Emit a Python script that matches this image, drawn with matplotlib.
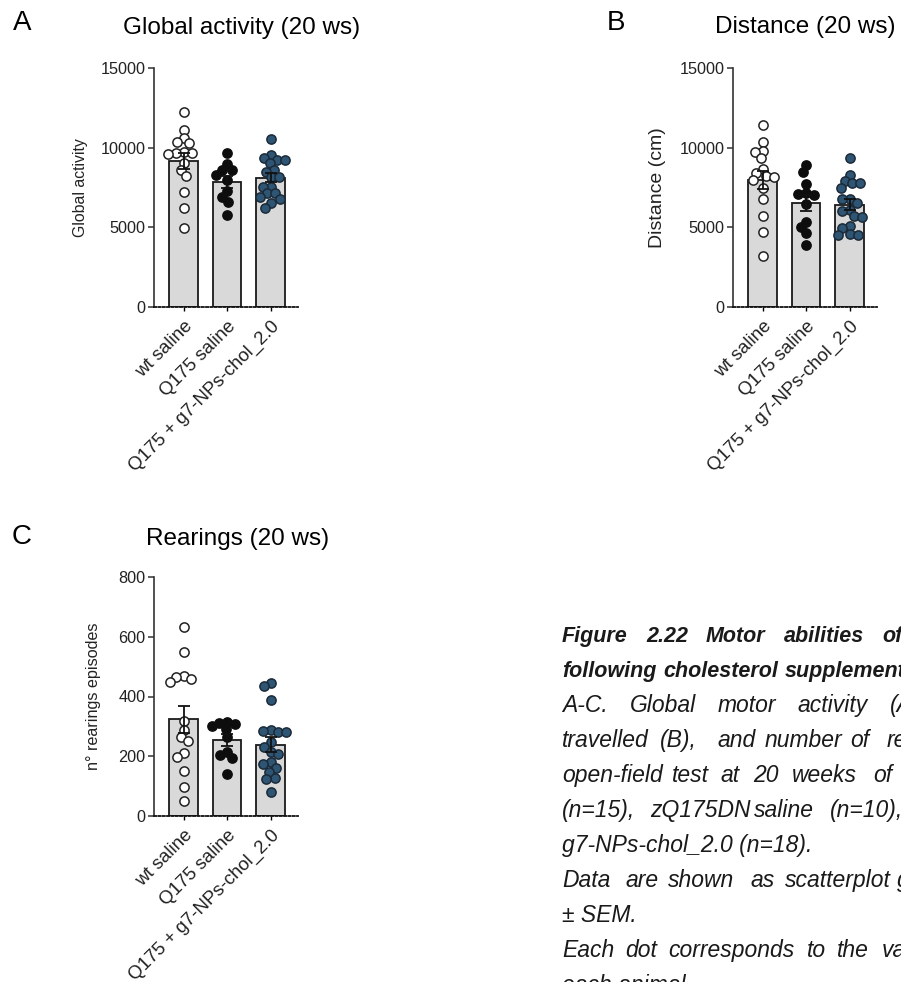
import numpy as np
import matplotlib
matplotlib.use("Agg")
import matplotlib.pyplot as plt

plt.rcParams['font.family'] = ['Liberation Sans', 'DejaVu Sans']

# ---- data ----
groups = ["wt saline", "Q175 saline", "Q175 + g7-NPs-chol_2.0"]

act_wt = [12250, 11100, 10600, 10330, 10270, 9700, 9680, 9650, 9600, 9050,
          8600, 8250, 7240, 6200, 4940]
act_q175 = [9650, 8980, 8600, 8600, 8300, 8000, 7250, 6900, 6600, 5800]
act_np = [10520, 9540, 9330, 9230, 9230, 9020, 8600, 8500, 8140, 8140,
          7550, 7550, 7140, 7140, 6920, 6760, 6510, 6200]

dist_wt = [11400, 10330, 9800, 9700, 9330, 8650, 8400, 8200, 8180, 7970,
           7450, 6760, 5710, 4730, 3200]
dist_q175 = [8900, 8450, 7720, 7140, 7100, 7030, 6460, 5350, 5000, 4630, 3890]
dist_np = [9330, 8290, 7930, 7800, 7760, 7500, 6760, 6760, 6550, 6100,
           6000, 5710, 5630, 5080, 4940, 4580, 4520, 4520]

rear_wt = [634, 550, 470, 466, 458, 450, 319, 288, 264, 252, 210, 199, 150, 98, 51]
rear_q175 = [315, 312, 308, 300, 290, 265, 215, 205, 195, 140]
rear_np = [446, 436, 388, 288, 285, 282, 282, 247, 232, 215, 208, 180, 174,
           160, 146, 128, 123, 79]

act_ticks = [0, 5000, 10000, 15000]
rear_ticks = [0, 200, 400, 600, 800]

# ---- styles ----
W, H = 901, 982
BAR_FC = "#d9d9d9"
DOT_STYLE = [dict(facecolor="white", edgecolor="#222222"),
             dict(facecolor="#0d0d0d", edgecolor="#0d0d0d"),
             dict(facecolor="#2f5574", edgecolor="#1b2a38")]


def fx(px):
    return px / W


def fy(py):
    return 1 - py / H


def swarm(ax, xc, vals, dmin=7.6):
    # beeswarm offsets, worked out in pixels then back to data units
    t = ax.transData
    ys = t.transform(np.column_stack([np.full(len(vals), xc), vals]))[:, 1]
    xpx = t.transform([[1, 0]])[0, 0] - t.transform([[0, 0]])[0, 0]
    cands = sorted(np.arange(-40, 40.01, 0.5), key=lambda c: (abs(c), c))
    placed, offs = [], np.zeros(len(vals))
    for i in np.argsort(-ys):
        for c in cands:
            if all((c - px) ** 2 + (ys[i] - py) ** 2 >= dmin ** 2 for px, py in placed):
                break
        placed.append((c, ys[i]))
        offs[i] = c
    return xc + offs / xpx


def panel(left, base, data, ticks, ylabel, ylab_size, ylab_right):
    ax = fig.add_axes([fx(left), fy(base), fx(144), 239 / H])
    ax.set_xlim(-0.68, 2.63)
    ax.set_ylim(ticks[0], ticks[-1])
    for i, vals in enumerate(data):
        vals = np.asarray(vals, float)
        m = vals.mean()
        sem = vals.std(ddof=1) / np.sqrt(len(vals))
        ax.bar(i, m, width=0.66, color=BAR_FC, edgecolor="#1a1a1a", linewidth=1.3, zorder=1)
        xs = swarm(ax, i, vals)
        ax.scatter(xs, vals, s=44, linewidths=1.1, zorder=3, clip_on=False, **DOT_STYLE[i])
        ax.errorbar(i, m, yerr=sem, color="#111111", elinewidth=1.3, capsize=4.6,
                    capthick=1.3, zorder=4)
    ax.set_yticks(ticks)
    ax.tick_params(axis="y", direction="out", length=4, width=1.1, colors="#333333",
                   labelsize=11.7, labelcolor="#222222", pad=2)
    ax.set_xticks([0, 1, 2])
    ax.set_xticklabels(groups, rotation=45, ha="right", rotation_mode="anchor",
                       fontsize=13.4, color="#222222")
    ax.tick_params(axis="x", direction="out", length=3, width=1.0, pad=5)
    for s in ("top", "right"):
        ax.spines[s].set_visible(False)
    ax.spines["left"].set_linewidth(1.2)
    ax.spines["left"].set_color("#333333")
    ax.spines["bottom"].set_linestyle((0, (1.2, 1.2)))
    ax.spines["bottom"].set_linewidth(1.3)
    ax.spines["bottom"].set_color("#111111")
    ax.set_ylabel(ylabel, fontsize=ylab_size, color="#222222")
    ax.yaxis.set_label_coords((ylab_right - left) / 144, 0.5)
    return ax


fig = plt.figure(figsize=(W / 100, H / 100), dpi=100)

axA = panel(154, 307, [act_wt, act_q175, act_np], act_ticks, "Global activity", 11.4, 88)
axB = panel(733, 307, [dist_wt, dist_q175, dist_np], act_ticks, "Distance (cm)", 14, 666)
axC = panel(154, 816, [rear_wt, rear_q175, rear_np], rear_ticks, "n° rearings episodes", 11.6, 101)

# panel letters and titles
for lab, x, y in [("A", 22, 23), ("B", 616, 23), ("C", 22, 537)]:
    fig.text(fx(x), fy(y), lab, fontsize=20, ha="center", va="center")
for title, x, y in [("Global activity (20 ws)", 242, 28),
                    ("Distance (20 ws)", 805, 27),
                    ("Rearings (20 ws)", 238, 539)]:
    fig.text(fx(x), fy(y), title, fontsize=17.5, ha="center", va="center")

# ---- caption: justified lines, word by word, clipped at the right edge ----
caption = [
    (642, "bold", ["Figure", "2.22", "Motor", "abilities", "of"], [562, 646, 706, 784, 882]),
    (677, "bold", ["following", "cholesterol", "supplementation"], [562, 663, 785]),
    (712, "normal", ["A-C.", "Global", "motor", "activity", "(A),"], [562, 630, 718, 797, 890]),
    (747, "normal", ["travelled", "(B),", "and", "number", "of", "rearings"],
     [562, 660, 717, 765, 850, 887]),
    (782, "normal", ["open-field", "test", "at", "20", "weeks", "of"],
     [562, 672, 720, 753, 792, 873]),
    (817, "normal", ["(n=15),", "zQ175DN", "saline", "(n=10),"], [562, 650, 754, 830]),
    (852, "normal", ["g7-NPs-chol_2.0 (n=18)."], [562]),
    (887, "normal", ["Data", "are", "shown", "as", "scatterplot", "graphs"],
     [562, 625, 668, 750, 785, 897]),
    (922, "normal", ["± SEM."], [562]),
    (957, "normal", ["Each", "dot", "corresponds", "to", "the", "value"],
     [562, 625, 668, 807, 837, 882]),
    (992, "normal", ["each animal."], [562]),
]
for y, weight, words, xs in caption:
    size = 15.5 if weight == "bold" else 16.5
    for w, x in zip(words, xs):
        fig.text(fx(x), fy(y), w, fontsize=size, style="italic", weight=weight,
                 ha="left", va="baseline", color="#1a1a1a")

fig.savefig("out.png", dpi=100)
